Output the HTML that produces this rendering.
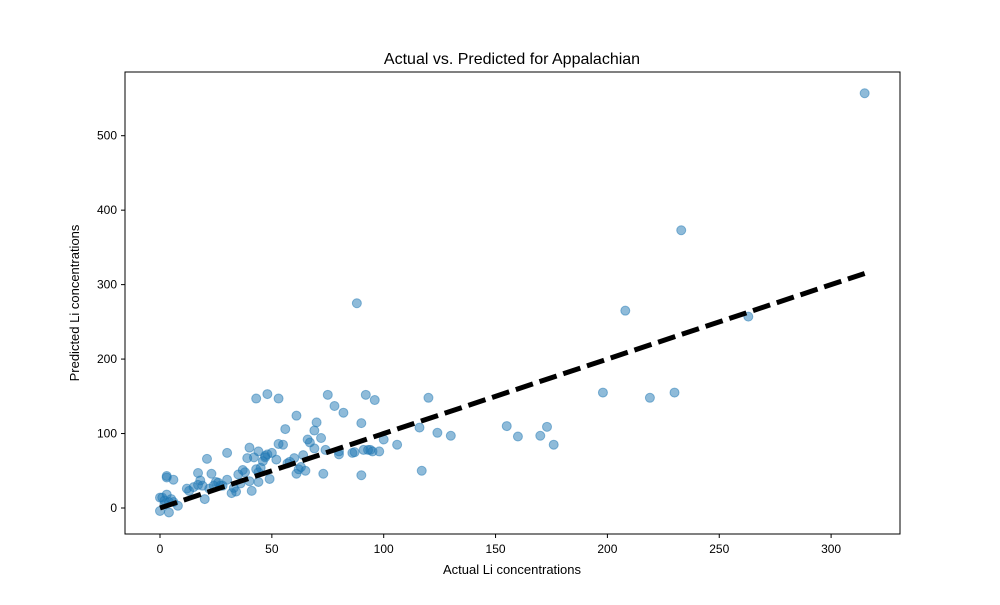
<!DOCTYPE html>
<html><head><meta charset="utf-8"><style>
body{margin:0;background:#fff;font-family:"Liberation Sans","DejaVu Sans",sans-serif;}
svg text{font-family:"Liberation Sans","DejaVu Sans",sans-serif;}
</style></head><body>
<svg id="chart" width="1000" height="600">
<rect x="0" y="0" width="1000" height="600" fill="#fff"/>
<text x="512" y="64" text-anchor="middle" font-size="16">Actual vs. Predicted for Appalachian</text>
<g id="points"></g>
<line id="fit" stroke="#000" stroke-width="5" stroke-dasharray="18,7"/>
<rect x="125" y="72" width="775" height="462" fill="none" stroke="#000" stroke-width="1"/>
<g id="xt"></g>
<g id="yt"></g>
<text x="512" y="574" text-anchor="middle" font-size="13">Actual Li concentrations</text>
<text transform="translate(79,303) rotate(-90)" text-anchor="middle" font-size="13">Predicted Li concentrations</text>
</svg>
<script>
const actual=[315,233,208,88,263,198,219,230,155,160,170,173,176,117,116,120,124,130,106,100,98,96,94,92,90,90,91,95,86,87,82,80,78,75,74,72,73,70,69,67,66,65,64,61,61,62,60,57,56,55,53,53,52,50,49,48,48,47,46,45,44,43,44,44,43,42,41,40,40,39,38,37,36,35,34,33,32,30,30,28,26,25,24,23,22,21,20,19,18,17,17,13,12,6,4,3,3,2,1,0,0,3,4,5,2,6,8,15,27,58,63,69,80,93,47];
const predicted=[557,373,265,275,257,155,148,155,110,96,97,109,85,50,108,148,101,97,85,92,76,145,78,152,114,44,78,76,74,75,128,72,137,152,78,94,46,115,104,88,92,50,71,124,46,52,67,60,106,85,147,86,65,74,39,153,72,68,63,54,76,147,35,48,52,68,23,81,36,67,48,51,33,45,22,27,20,74,38,30,34,35,30,46,26,66,12,30,37,31,47,23,26,38,8,43,41,10,14,14,-4,18,-6,12,5,8,3,28,30,62,55,80,76,78,70];
const xTicks=[0,50,100,150,200,250,300];
const yTicks=[0,100,200,300,400,500];
const X=v=>160+v*2.237, Y=v=>508-v*0.7446;
const NS="http://www.w3.org/2000/svg";
const pg=document.getElementById('points');
actual.forEach((a,i)=>{const c=document.createElementNS(NS,'circle');
c.setAttribute('cx',X(a));c.setAttribute('cy',Y(predicted[i]));c.setAttribute('r',4.5);
c.setAttribute('fill','#1f77b4');c.setAttribute('fill-opacity','0.5');c.setAttribute('stroke','#1f77b4');c.setAttribute('stroke-opacity','0.5');


pg.appendChild(c);});
const f=document.getElementById('fit');
f.setAttribute('x1',X(0));f.setAttribute('y1',Y(0));f.setAttribute('x2',X(315));f.setAttribute('y2',Y(315));
const xt=document.getElementById('xt');
xTicks.forEach(t=>{const l=document.createElementNS(NS,'line');l.setAttribute('x1',X(t));l.setAttribute('x2',X(t));l.setAttribute('y1',534);l.setAttribute('y2',538);l.setAttribute('stroke','#000');


xt.appendChild(l);
const s=document.createElementNS(NS,'text');s.setAttribute('x',X(t));s.setAttribute('y',553);s.setAttribute('text-anchor','middle');s.setAttribute('font-size','12');s.textContent=t;


xt.appendChild(s);});
const yt=document.getElementById('yt');
yTicks.forEach(t=>{const l=document.createElementNS(NS,'line');l.setAttribute('x1',121);l.setAttribute('x2',125);l.setAttribute('y1',Y(t));l.setAttribute('y2',Y(t));l.setAttribute('stroke','#000');


yt.appendChild(l);
const s=document.createElementNS(NS,'text');s.setAttribute('x',117);s.setAttribute('y',Y(t)+4);s.setAttribute('text-anchor','end');s.setAttribute('font-size','12');s.textContent=t;


yt.appendChild(s);});
</script>
</body></html>
